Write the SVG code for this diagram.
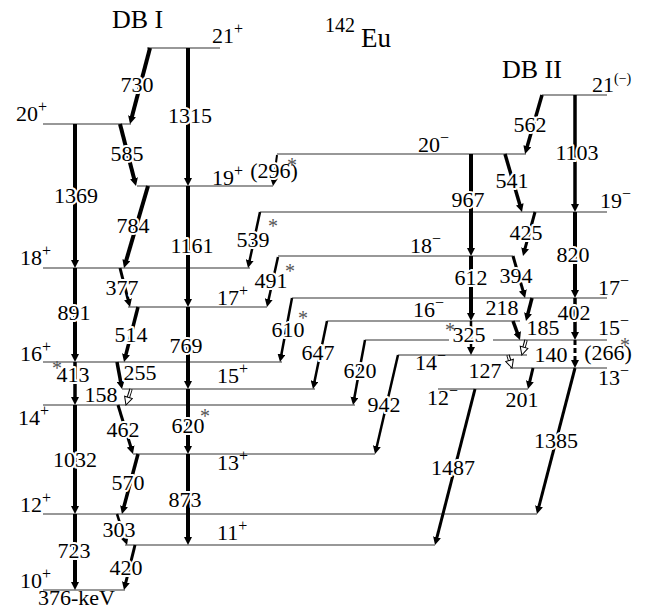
<svg xmlns="http://www.w3.org/2000/svg" width="652" height="610" viewBox="0 0 652 610" font-family="'Liberation Serif', 'DejaVu Serif', serif">
<style>
text{font-family:'Liberation Serif','DejaVu Serif',serif;fill:#000}
.lv{stroke:#333;stroke-width:1.1;fill:none}
.tr{stroke:#000;fill:none;marker-end:url(#ah)}
.ho{stroke:#000;stroke-width:3.4;fill:none}
.hi{stroke:#fff;stroke-width:1.4;fill:none;marker-end:url(#aho)}
.t{font-size:22px;text-anchor:middle;paint-order:stroke;stroke:#fff;stroke-width:4px;stroke-linejoin:round}
.l{font-size:22px}
.s{font-size:16px}
.a{font-size:20px;fill:#555;text-anchor:middle}
.title{font-size:26px}
</style>
<defs>
<marker id="ah" markerUnits="userSpaceOnUse" viewBox="0 0 8 8" markerWidth="8" markerHeight="8" refX="2" refY="4" orient="auto"><path d="M0,0 L8,4 L0,8 z" fill="#000"/></marker>
<marker id="aho" markerUnits="userSpaceOnUse" viewBox="-1 -1 10 10" markerWidth="10" markerHeight="10" refX="2" refY="4" orient="auto"><path d="M0,0 L8,4 L0,8 z" fill="#fff" stroke="#000" stroke-width="1"/></marker>
</defs>

<g id="titles">
<text class="title" x="112" y="28">DB I</text>
<text class="title" x="502" y="78">DB II</text>
<text x="325" y="32" font-size="20">142</text>
<text x="361" y="47" font-size="27">Eu</text>
</g>

<g id="levels">
<g id="L21p"><line class="lv" x1="147" y1="48" x2="220" y2="48"/><text class="l" x="212" y="43">21<tspan class="s" dy="-9">+</tspan></text></g>
<g id="L20p"><line class="lv" x1="43" y1="124" x2="131" y2="124"/><text class="l" x="16" y="121">20<tspan class="s" dy="-9">+</tspan></text></g>
<g id="L19p"><line class="lv" x1="137" y1="186" x2="273" y2="186"/><text class="l" x="212" y="185">19<tspan class="s" dy="-9">+</tspan></text></g>
<g id="L18p"><line class="lv" x1="43" y1="268" x2="250" y2="268"/><text class="l" x="20" y="265">18<tspan class="s" dy="-9">+</tspan></text></g>
<g id="L17p"><line class="lv" x1="128" y1="307" x2="267" y2="307"/><text class="l" x="217" y="305">17<tspan class="s" dy="-9">+</tspan></text></g>
<g id="L16p"><line class="lv" x1="43" y1="362" x2="282" y2="362"/><text class="l" x="20" y="361">16<tspan class="s" dy="-9">+</tspan></text></g>
<g id="L15p"><line class="lv" x1="122" y1="389" x2="315" y2="389"/><text class="l" x="217" y="383">15<tspan class="s" dy="-9">+</tspan></text></g>
<g id="L14p"><line class="lv" x1="43" y1="405" x2="355" y2="405"/><text class="l" x="18" y="425">14<tspan class="s" dy="-9">+</tspan></text></g>
<g id="L13p"><line class="lv" x1="133" y1="454" x2="375" y2="454"/><text class="l" x="217" y="470">13<tspan class="s" dy="-9">+</tspan></text></g>
<g id="L12p"><line class="lv" x1="43" y1="514" x2="537" y2="514"/><text class="l" x="20" y="512">12<tspan class="s" dy="-9">+</tspan></text></g>
<g id="L11p"><line class="lv" x1="125" y1="545" x2="435" y2="545"/><text class="l" x="217" y="540">11<tspan class="s" dy="-9">+</tspan></text></g>
<g id="L10p"><line class="lv" x1="43" y1="590" x2="125" y2="590"/><text class="l" x="20" y="588">10<tspan class="s" dy="-9">+</tspan></text><text class="l" x="38" y="605">376-keV</text></g>
<g id="L21m"><line class="lv" x1="542" y1="95" x2="607" y2="95"/><text class="l" x="592" y="92">21<tspan font-size="14" dy="-9">(−)</tspan></text></g>
<g id="L20m"><line class="lv" x1="277" y1="154" x2="526" y2="154"/><text class="l" x="418" y="152">20<tspan class="s" dy="-9">−</tspan></text></g>
<g id="L19m"><line class="lv" x1="260" y1="212" x2="607" y2="212"/><text class="l" x="600" y="208">19<tspan class="s" dy="-9">−</tspan></text></g>
<g id="L18m"><line class="lv" x1="278" y1="256" x2="513" y2="256"/><text class="l" x="410" y="253">18<tspan class="s" dy="-9">−</tspan></text></g>
<g id="L17m"><line class="lv" x1="292" y1="298" x2="607" y2="298"/><text class="l" x="598" y="295">17<tspan class="s" dy="-9">−</tspan></text></g>
<g id="L16m"><line class="lv" x1="327" y1="321" x2="520" y2="321"/><text class="l" x="413" y="317">16<tspan class="s" dy="-9">−</tspan></text></g>
<g id="L15m"><line class="lv" x1="365" y1="340" x2="449" y2="340"/><line class="lv" x1="493" y1="340" x2="607" y2="340"/><text class="l" x="598" y="335">15<tspan class="s" dy="-9">−</tspan></text></g>
<g id="L14m"><line class="lv" x1="398" y1="355" x2="527" y2="355"/><text class="l" x="415" y="370">14<tspan class="s" dy="-9">−</tspan></text></g>
<g id="L13m"><line class="lv" x1="510" y1="368" x2="607" y2="368"/><text class="l" x="598" y="385">13<tspan class="s" dy="-9">−</tspan></text></g>
<g id="L12m"><line class="lv" x1="438" y1="389" x2="528" y2="389"/><text class="l" x="427" y="405">12<tspan class="s" dy="-9">−</tspan></text></g>
</g>

<g id="connectors">
<line class="tr" stroke-width="4" x1="150" y1="48" x2="131.5" y2="118.2"/>
<line class="tr" stroke-width="4" x1="188" y1="48" x2="188" y2="180"/>
<line class="tr" stroke-width="4" x1="120" y1="124" x2="134.5" y2="180.2"/>
<line class="tr" stroke-width="4" x1="75" y1="124" x2="75" y2="262"/>
<line class="tr" stroke-width="4" x1="148" y1="186" x2="125.7" y2="262.2"/>
<line class="tr" stroke-width="4" x1="188" y1="186" x2="188" y2="301"/>
<line class="tr" stroke-width="3" x1="120" y1="268" x2="128.5" y2="301.2"/>
<line class="tr" stroke-width="4" x1="75" y1="268" x2="75" y2="356"/>
<line class="tr" stroke-width="3.5" x1="138" y1="307" x2="125.5" y2="356.2"/>
<line class="tr" stroke-width="4" x1="188" y1="307" x2="188" y2="383"/>
<line class="tr" stroke-width="3.5" x1="75" y1="362" x2="75" y2="399"/>
<line class="tr" stroke-width="3.5" x1="117" y1="362" x2="120.9" y2="383.1"/>
<line class="ho" x1="131" y1="389" x2="127.8" y2="399.3"/><line class="hi" x1="131" y1="389.5" x2="127.8" y2="399.3"/>
<line class="tr" stroke-width="3" x1="118" y1="405" x2="131.2" y2="448.3"/>
<line class="tr" stroke-width="4" x1="188" y1="389" x2="188" y2="448"/>
<line class="tr" stroke-width="4" x1="75" y1="405" x2="75" y2="508"/>
<line class="tr" stroke-width="3.5" x1="138" y1="454" x2="123.5" y2="508.2"/>
<line class="tr" stroke-width="4" x1="188" y1="454" x2="188" y2="539"/>
<line class="tr" stroke-width="2.5" x1="117" y1="514" x2="125.2" y2="539.3"/>
<line class="tr" stroke-width="4" x1="75" y1="514" x2="75" y2="584"/>
<line class="tr" stroke-width="3" x1="135" y1="545" x2="125.4" y2="584.2"/>
<line class="tr" stroke-width="2" x1="277" y1="155" x2="273.8" y2="180"/>
<line class="tr" stroke-width="2.5" x1="260" y1="212" x2="249.3" y2="262.1"/>
<line class="tr" stroke-width="2.5" x1="278" y1="257" x2="268.3" y2="301.1"/>
<line class="tr" stroke-width="2.5" x1="292" y1="298" x2="281.1" y2="356.1"/>
<line class="tr" stroke-width="2.5" x1="327" y1="321" x2="314.2" y2="383.1"/>
<line class="tr" stroke-width="2.5" x1="365" y1="340" x2="354.1" y2="399.1"/>
<line class="tr" stroke-width="2.5" x1="398" y1="355" x2="376.4" y2="448.2"/>
<line class="tr" stroke-width="3" x1="475" y1="389" x2="436.5" y2="539.2"/>
<line class="tr" stroke-width="3" x1="575" y1="368" x2="538.5" y2="508.2"/>
<line class="tr" stroke-width="3.5" x1="542" y1="95" x2="526.7" y2="148.2"/>
<line class="tr" stroke-width="3.5" x1="575" y1="95" x2="575" y2="206"/>
<line class="tr" stroke-width="4" x1="471" y1="154" x2="471" y2="250"/>
<line class="tr" stroke-width="3.5" x1="505" y1="154" x2="520.3" y2="206.2"/>
<line class="tr" stroke-width="3" x1="535" y1="212" x2="524.6" y2="250.2"/>
<line class="tr" stroke-width="4" x1="575" y1="212" x2="575" y2="292"/>
<line class="tr" stroke-width="4" x1="471" y1="256" x2="471" y2="315"/>
<line class="tr" stroke-width="3" x1="513" y1="256" x2="523.4" y2="292.2"/>
<line class="tr" stroke-width="3.5" x1="532" y1="298" x2="527.5" y2="315.2"/>
<line class="tr" stroke-width="3.5" x1="575" y1="298" x2="575" y2="334"/>
<line class="tr" stroke-width="3.5" x1="513" y1="321" x2="517.9" y2="334.4"/>
<line class="tr" stroke-width="2.5" x1="471" y1="321" x2="471" y2="349"/>
<line class="ho" x1="526" y1="340" x2="523.5" y2="349.2"/><line class="hi" x1="526" y1="340.5" x2="523.5" y2="349.2"/>
<line class="ho" x1="508" y1="355" x2="510.2" y2="362.3"/><line class="hi" x1="508" y1="355.5" x2="510.2" y2="362.3"/>
<line class="tr" stroke-width="3" stroke-dasharray="5 3" x1="575" y1="340" x2="575" y2="362"/>
<line class="tr" stroke-width="3" x1="533" y1="368" x2="529.4" y2="383.2"/>
</g>

<g id="labels">
<text class="t" x="137" y="92">730</text>
<text class="t" x="190" y="123">1315</text>
<text class="t" x="127" y="161">585</text>
<text class="t" x="76" y="203">1369</text>
<text class="t" x="133" y="233">784</text>
<text class="t" x="192" y="253">1161</text>
<text class="t" x="122" y="295">377</text>
<text class="t" x="74" y="320">891</text>
<text class="t" x="131" y="342">514</text>
<text class="t" x="186" y="353">769</text>
<text class="t" x="73" y="382">413</text>
<text class="t" x="140" y="380">255</text>
<text class="t" x="101" y="402">158</text>
<text class="t" x="123" y="437">462</text>
<text class="t" x="188" y="433">620</text>
<text class="t" x="75" y="467">1032</text>
<text class="t" x="128" y="490">570</text>
<text class="t" x="185" y="507">873</text>
<text class="t" x="119" y="537">303</text>
<text class="t" x="74" y="558">723</text>
<text class="t" x="126" y="575">420</text>
<text class="t" x="274" y="178">(296)</text>
<text class="t" x="253" y="247">539</text>
<text class="t" x="271" y="288">491</text>
<text class="t" x="288" y="337">610</text>
<text class="t" x="318" y="360">647</text>
<text class="t" x="360" y="378">620</text>
<text class="t" x="384" y="412">942</text>
<text class="t" x="453" y="475">1487</text>
<text class="t" x="556" y="448">1385</text>
<text class="t" x="530" y="132">562</text>
<text class="t" x="577" y="160">1103</text>
<text class="t" x="468" y="207">967</text>
<text class="t" x="512" y="188">541</text>
<text class="t" x="526" y="240">425</text>
<text class="t" x="573" y="262">820</text>
<text class="t" x="471" y="285">612</text>
<text class="t" x="516" y="283">394</text>
<text class="t" x="502" y="315">218</text>
<text class="t" x="574" y="320">402</text>
<text class="t" x="543" y="335">185</text>
<text class="t" x="469" y="342">325</text>
<text class="t" x="551" y="362">140</text>
<text class="t" x="608" y="360">(266)</text>
<text class="t" x="485" y="378">127</text>
<text class="t" x="522" y="407">201</text>
</g>

<g id="asterisks">
<text class="a" x="292" y="172">*</text>
<text class="a" x="273" y="233">*</text>
<text class="a" x="290" y="278">*</text>
<text class="a" x="303" y="325">*</text>
<text class="a" x="57" y="375">*</text>
<text class="a" x="205" y="423">*</text>
<text class="a" x="450" y="337">*</text>
<text class="a" x="625" y="352">*</text>
</g>
</svg>
